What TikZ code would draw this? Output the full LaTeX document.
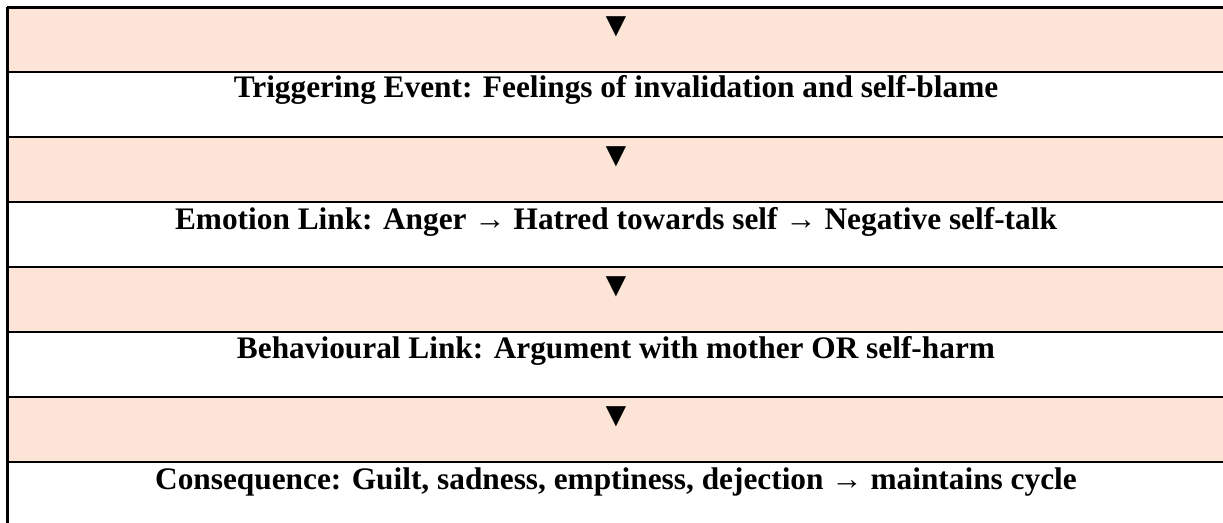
\documentclass[tikz,border=0pt]{standalone}
\usepackage{fontspec}
\setmainfont{Liberation Serif}
\definecolor{peach}{HTML}{FCE4D6}
\begin{document}
\begin{tikzpicture}[x=0.75pt,y=-0.75pt,
  rowtext/.style={anchor=base, inner sep=0pt, font=\fontsize{23.5}{28}\selectfont\bfseries},
  downmark/.style={anchor=center, inner sep=0pt, font=\fontsize{26}{30}\selectfont\bfseries},
  rule/.style={line width=1.9pt}]
\useasboundingbox (0,0) rectangle (1223,522);

% shaded rows
\foreach \top in {7.5, 137, 267, 397}
  \fill[peach] (7.5, \top) rectangle (1240, \top+65);

% down marks
\node[downmark] (markA) at (616, 27) {▼};
\node[downmark] (markB) at (616, 157) {▼};
\node[downmark] (markC) at (616, 287) {▼};
\node[downmark] (markD) at (616, 417) {▼};

% link texts
\node[rowtext] (trigger) at (616, 97) {Triggering Event: Feelings of invalidation and self-blame};
\node[rowtext] (emotion) at (616, 229) {Emotion Link: Anger → Hatred towards self → Negative self-talk};
\node[rowtext] (behaviour) at (616, 358) {Behavioural Link: Argument with mother OR self-harm};
\node[rowtext] (outcome) at (616, 489) {Consequence: Guilt, sadness, emptiness, dejection → maintains cycle};

% table rules
\foreach \y in {7.5, 72, 137, 202, 267, 332, 397, 462}
  \draw[rule] (6.5, \y) -- (1240, \y);
\draw[rule] (7.5, 6.5) -- (7.5, 540);

\end{tikzpicture}
\end{document}
